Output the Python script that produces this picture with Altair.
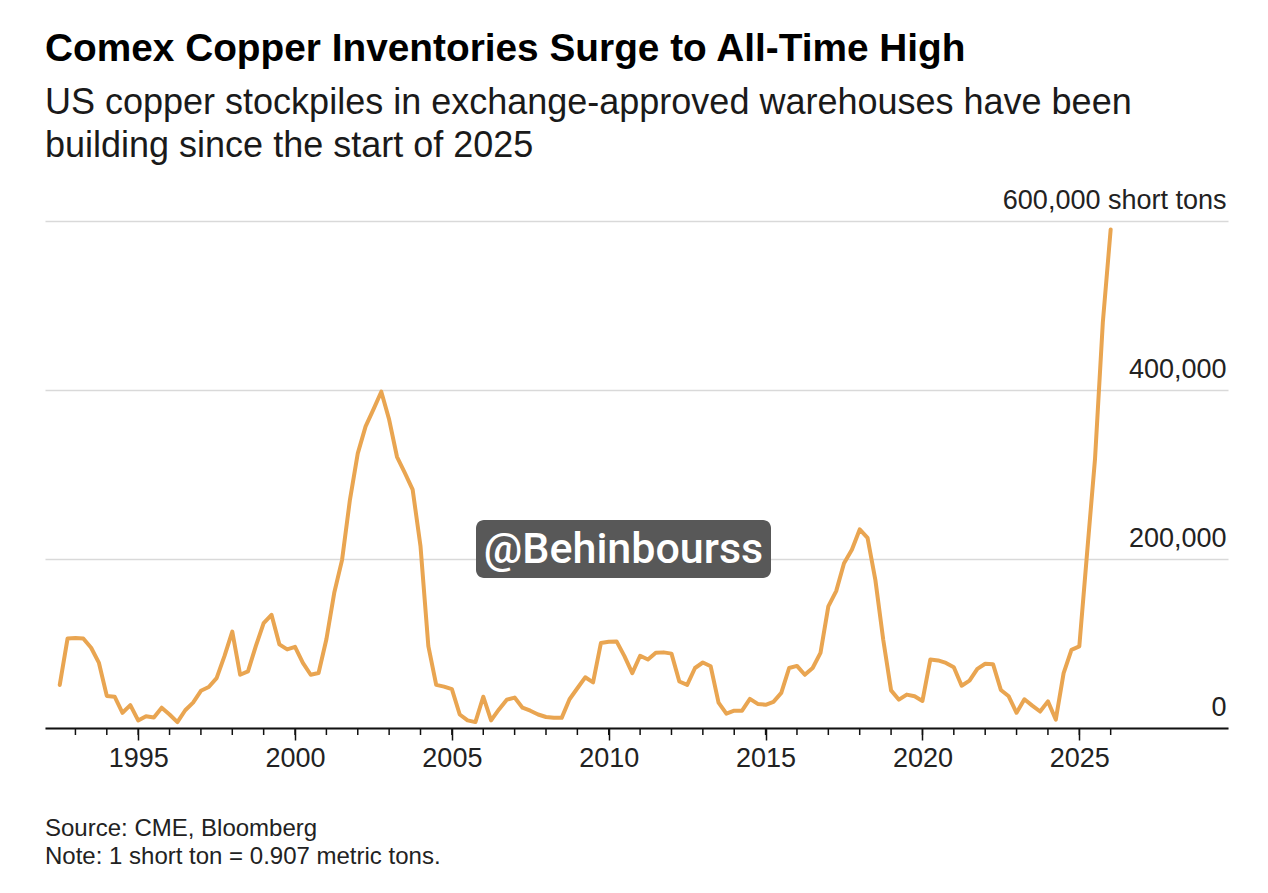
import altair as alt
import pandas as pd

FONT = "Liberation Sans"
LINE_COLOR = "#E9A551"

# Comex copper inventories, short tons, quarterly from Q3 1992
first_quarter = 1992.5
stocks = [
    51000, 106000,                      # 1992
    106500, 106000, 95000, 77000,       # 1993
    38000, 37000, 18000, 27000,         # 1994
    9000, 14000, 12500, 24000,          # 1995
    16000, 7000, 21000, 30000,          # 1996
    44000, 48500, 59000, 85000,         # 1997
    114000, 63000, 67000, 97000,        # 1998
    124000, 134000, 99000, 93000,       # 1999
    96000, 77000, 63000, 65000,         # 2000
    105000, 160000, 199000, 270000,     # 2001
    325000, 357000, 377000, 398000,     # 2002
    365000, 321000, 302000, 282000,     # 2003
    215000, 97000, 51000, 49000,        # 2004
    46000, 16000, 9000, 7000,           # 2005
    37000, 9000, 22000, 33500,          # 2006
    36000, 24000, 20500, 16000,         # 2007
    13000, 12000, 12000, 34000,         # 2008
    47000, 60000, 54000, 100500,        # 2009
    102000, 102500, 85000, 65000,       # 2010
    85500, 81000, 89000, 89500,         # 2011
    88000, 55000, 51000, 71000,         # 2012
    77500, 73000, 30000, 17000,         # 2013
    20500, 20500, 34500, 28500,         # 2014
    27500, 31000, 41500, 71000,         # 2015
    73500, 63000, 71000, 89000,         # 2016
    144000, 162000, 195000, 211000,     # 2017
    235000, 225000, 175000, 104500,     # 2018
    44500, 33500, 39500, 37500,         # 2019
    32000, 81000, 80000, 77000,         # 2020
    72000, 50000, 56000, 70000,         # 2021
    76000, 75500, 45000, 37500,         # 2022
    18000, 34000, 26500, 19500,         # 2023
    31500, 10000, 65000, 92500,         # 2024
    96500, 208000, 318000, 480000,      # 2025
    590000,                             # 2026
]
years = [first_quarter + 0.25 * i for i in range(len(stocks))]

major_years = [1995, 2000, 2005, 2010, 2015, 2020, 2025]
minor_years = list(range(1993, 2027))
y_values = [0, 200000, 400000, 600000]

title_text = "Comex Copper Inventories Surge to All-Time High"
subtitle_lines = [
    "US copper stockpiles in exchange-approved warehouses have been",
    "building since the start of 2025",
]
footer_lines = ["Source: CME, Bloomberg", "Note: 1 short ton = 0.907 metric tons."]
tag_text = "@Behinbourss"

W, H = 1183, 507

df = pd.DataFrame({"year": years, "stock": stocks})
tick_df = pd.DataFrame({"year": minor_years})
one = pd.DataFrame({"k": [0]})

x_scale = alt.Scale(domain=[1992.03, 2029.74], nice=False, zero=False)
y_scale = alt.Scale(domain=[0, 600000], nice=False)

x_axis = alt.Axis(
    values=major_years, format="d", title=None, grid=False,
    tickSize=12, tickWidth=1.5, tickColor="#111",
    domainColor="#111", domainWidth=2,
    labelFont=FONT, labelFontSize=27, labelColor="#222", labelPadding=5,
    labelFlush=False, zindex=1,
)
y_axis = alt.Axis(
    orient="right", values=y_values, format=",d", title=None,
    labelExpr="datum.value == 600000 ? '600,000 short tons' : datum.label",
    domain=False, ticks=False, tickSize=0,
    grid=True, gridColor="#d9d9d9", gridWidth=1.5,
    labelAlign="right", labelBaseline="alphabetic", labelOffset=-12.6,
    labelPadding=-2, labelLimit=0, labelFont=FONT, labelFontSize=27,
    labelColor="#222",
)

x_enc = alt.X("year:Q", scale=x_scale, axis=x_axis)

line = alt.Chart(df).mark_line(
    color=LINE_COLOR, strokeWidth=4, strokeJoin="round", strokeCap="round"
).encode(
    x=x_enc,
    y=alt.Y("stock:Q", scale=y_scale, axis=y_axis),
)

minor_ticks = alt.Chart(tick_df).mark_rule(color="#111", strokeWidth=1.5).encode(
    x=x_enc, y=alt.value(H), y2=alt.value(H + 7)
)


def label(text, x, y, size, weight="normal", color="#1a1a1a", align="left",
          baseline="alphabetic", font=FONT):
    return alt.Chart(one).mark_text(
        align=align, baseline=baseline, font=font, fontSize=size,
        fontWeight=weight, color=color,
    ).encode(x=alt.value(x), y=alt.value(y), text=alt.value(text))


title = label(title_text, 0, -160, 38.8, weight="bold", color="#000")
sub1 = label(subtitle_lines[0], 0, -107, 36)
sub2 = label(subtitle_lines[1], 0, -64, 36)
foot1 = label(footer_lines[0], 0, 615, 24, color="#222")
foot2 = label(footer_lines[1], 0, 643, 24, color="#222")

tag_box = alt.Chart(one).mark_rect(color="#585858", cornerRadius=8).encode(
    x=alt.value(431), x2=alt.value(726), y=alt.value(299), y2=alt.value(357)
)
tag = label(tag_text, 578.5, 329, 43, weight=500, color="#ffffff",
            align="center", baseline="middle", font="Roboto")

chart = alt.layer(
    minor_ticks, line, tag_box, tag, title, sub1, sub2, foot1, foot2
).properties(
    width=W, height=H,
    padding={"left": 45, "top": 221, "right": 40, "bottom": 165},
    autosize=alt.AutoSizeParams(type="none"),
    background="#ffffff",
).configure_view(stroke=None)

chart.save("out.html", embed_options={"renderer": "svg", "actions": False})
